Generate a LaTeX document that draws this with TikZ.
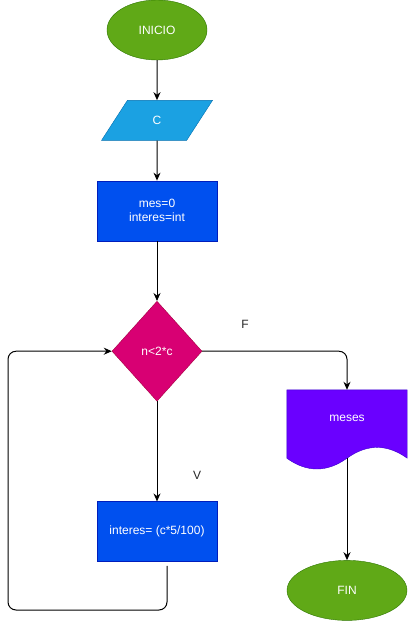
\documentclass[tikz,border=0pt]{standalone}
\usepackage{fontspec}
\setmainfont{Liberation Sans}
\usetikzlibrary{arrows.meta,positioning,shapes.geometric}

\definecolor{verde}{HTML}{60A917}
\definecolor{verdeborde}{HTML}{2D7600}
\definecolor{celeste}{HTML}{1BA1E2}
\definecolor{celesteborde}{HTML}{006EAF}
\definecolor{azul}{HTML}{0050EF}
\definecolor{azulborde}{HTML}{001DBC}
\definecolor{rosa}{HTML}{D80073}
\definecolor{rosaborde}{HTML}{A50040}
\definecolor{morado}{HTML}{6A00FF}
\definecolor{moradoborde}{HTML}{3700CC}

\tikzset{
    base/.style={text=white, font=\fontsize{12}{14}\selectfont, inner sep=0pt, align=center},
    terminal/.style={base, ellipse, draw=verdeborde, fill=verde, minimum width=100pt, minimum height=60pt},
    entrada/.style={base, trapezium, trapezium left angle=66, trapezium right angle=114,
        trapezium stretches=true, draw=celesteborde, fill=celeste, minimum width=111pt, minimum height=40pt},
    proceso/.style={base, rectangle, draw=azulborde, fill=azul, minimum width=120pt, minimum height=60pt},
    decision/.style={base, diamond, draw=rosaborde, fill=rosa, minimum width=90pt, minimum height=100pt},
    salida/.style={base, rectangle, minimum width=120pt, minimum height=80pt},
    etiqueta/.style={font=\fontsize{12}{14}\selectfont, text=black!85},
    flecha/.style={->, line width=1pt}
}

\begin{document}
\begin{tikzpicture}[x=1pt, y=-1pt, >={Stealth[length=8pt,width=7pt]}]
    \useasboundingbox (0,0) rectangle (408,621);
    \node[terminal] (inicio) at (157,30) {INICIO};
    \node[entrada] (c) [below=40pt of inicio] {C};
    \node[proceso] (mes) [below=40pt of c] {mes=0\\interes=int};
    \node[decision] (cond) [below=60pt of mes] {n<2*c};
    \node[proceso] (interes) [below=100pt of cond] {interes= (c*5/100)};
    \node[salida] (meses) at (347,430) {};
    \node[terminal, minimum width=120pt] (fin) [below=90pt of meses] {FIN};
    \node[etiqueta] (lblF) at (245,324) {F};
    \node[etiqueta] (lblV) at (197,475) {V};
    \coordinate (vuelta) at (8,610);
    % hoja del documento con borde ondulado abajo
    \filldraw[draw=moradoborde, fill=morado] (meses.north west) -- (meses.north east)
        -- ([yshift=12pt]meses.south east)
        .. controls +(-20,-14.4) and +(20,-14.4) .. ([yshift=12pt]meses.south)
        .. controls +(-20,14.4) and +(20,14.4) .. ([yshift=12pt]meses.south west) -- cycle;
    \node[base] (txtmeses) at ([yshift=12pt]meses.center) {meses};
    \draw[flecha] (inicio) -- (c);
    \draw[flecha] (c) -- (mes);
    \draw[flecha] (mes) -- (cond);
    \draw[flecha] (cond) -- (interes);
    \draw[flecha, rounded corners=8pt] (cond.east) -| (meses.north);
    \draw[flecha] ([yshift=12pt]meses.south) -- (fin);
    % regreso del ciclo a la condicion
    \draw[flecha, rounded corners=8pt] ([xshift=10pt,yshift=-4pt]interes.south) |- (vuelta) |- (cond.west);
\end{tikzpicture}
\end{document}
